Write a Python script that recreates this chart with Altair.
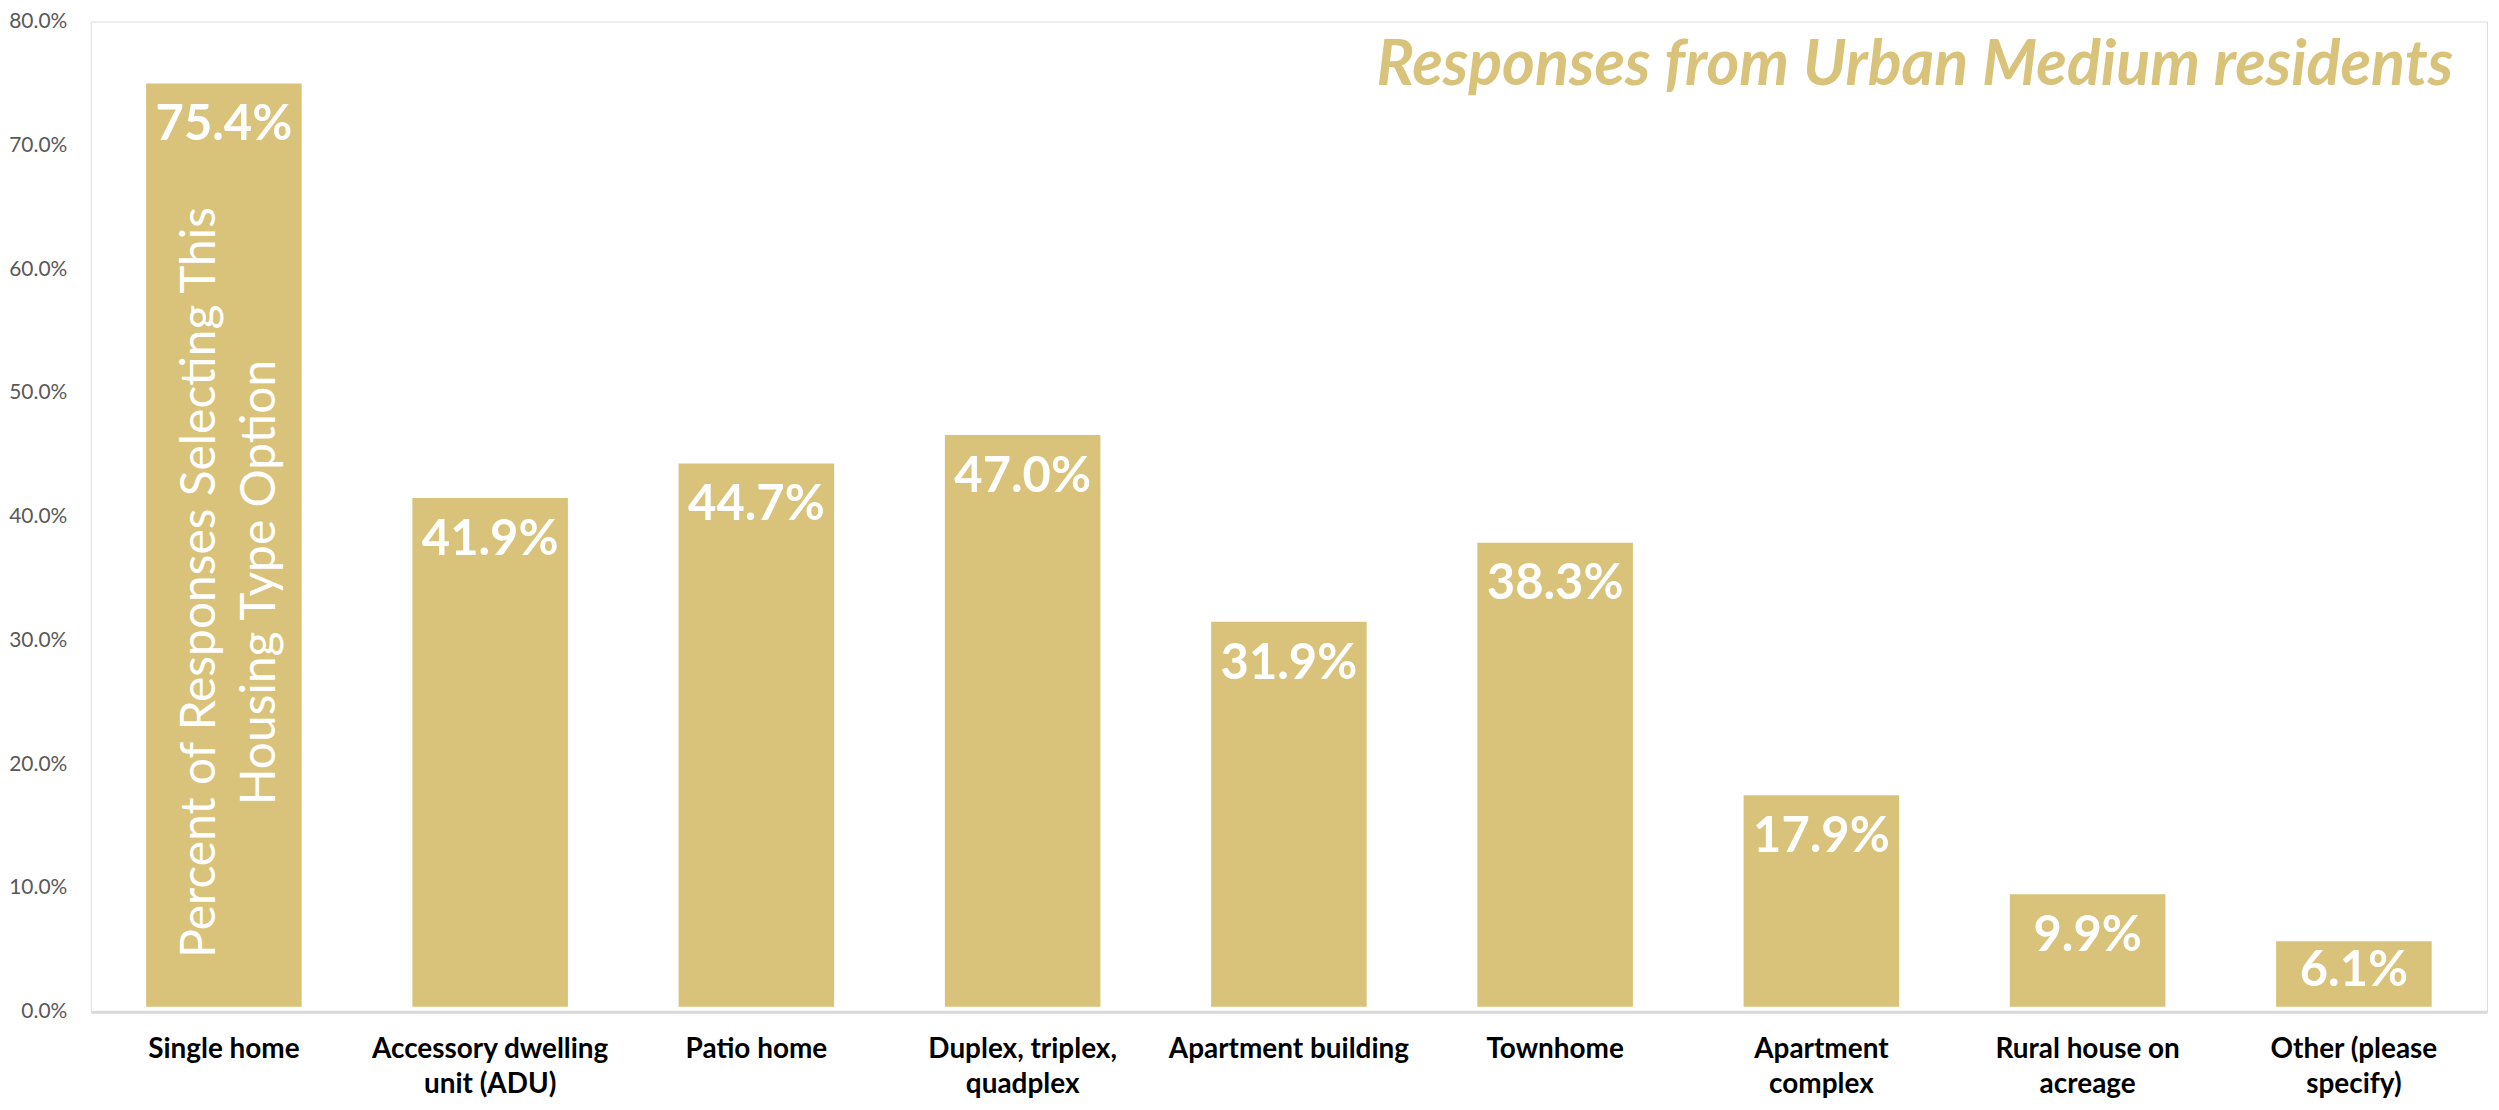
import altair as alt
import pandas as pd

categories = [
    "Single home",
    "Accessory dwelling unit (ADU)",
    "Patio home",
    "Duplex, triplex, quadplex",
    "Apartment building",
    "Townhome",
    "Apartment complex",
    "Rural house on acreage",
    "Other (please specify)",
]
label_lines = [
    ["Single home"],
    ["Accessory dwelling", "unit (ADU)"],
    ["Patio home"],
    ["Duplex, triplex,", "quadplex"],
    ["Apartment building"],
    ["Townhome"],
    ["Apartment", "complex"],
    ["Rural house on", "acreage"],
    ["Other (please", "specify)"],
]
values = [0.754, 0.419, 0.447, 0.470, 0.319, 0.383, 0.179, 0.099, 0.061]
y_ticks = [0.0, 0.1, 0.2, 0.3, 0.4, 0.5, 0.6, 0.7, 0.8]

title_text = "Responses from Urban Medium residents"
y_title = ["Percent of Responses Selecting This", "Housing Type Option"]

GOLD = "#D9C27A"
FONT = "Lato"

df = pd.DataFrame({"category": categories, "value": values})

expr = "''"
for cat, lines in reversed(list(zip(categories, label_lines))):
    arr = "[" + ",".join("'" + l + "'" for l in lines) + "]"
    expr = f"datum.label == '{cat}' ? {arr} : ({expr})"

x_enc = alt.X(
    "category:N",
    sort=categories,
    scale=alt.Scale(paddingInner=0.38, paddingOuter=0.19),
    axis=alt.Axis(
        title=None,
        labelAngle=0,
        labelExpr=expr,
        labelLimit=0,
        labelFont=FONT,
        labelFontSize=28,
        labelFontWeight="bold",
        labelColor="#000000",
        labelLineHeight=35,
        labelBaseline="top",
        labelPadding=24,
        ticks=False,
        domainColor="#D9D9D9",
        domainWidth=3,
        zindex=1,
    ),
)
y_enc = alt.Y(
    "value:Q",
    scale=alt.Scale(domain=[0, 0.8], nice=False),
    axis=alt.Axis(
        values=y_ticks,
        format=".1%",
        labelFont=FONT,
        labelFontSize=21,
        labelColor="#595959",
        labelPadding=24,
        ticks=False,
        domain=False,
        grid=False,
        title=y_title,
        titleFont=FONT,
        titleFontSize=48,
        titleFontWeight="normal",
        titleColor="#FFFFFF",
        titleAngle=270,
        titleLineHeight=60,
        titleAlign="center",
        titleBaseline="middle",
        titleX=110,
        titleY=562,
        zindex=1,
    ),
)

bars = alt.Chart(df).mark_bar(
    size=166, color=GOLD, stroke="white", strokeWidth=10
).encode(x=x_enc, y=y_enc)

# Labels sit just inside the top of each bar; very short bars get them centred
labels = alt.Chart(df).transform_calculate(
    label_pos="datum.value < 0.08 ? datum.value / 2 + 0.04 : datum.value"
).mark_text(
    font=FONT,
    fontSize=49,
    fontWeight="bold",
    color="white",
    baseline="alphabetic",
    align="center",
    dy=62,
).encode(
    x=alt.X("category:N", sort=categories),
    y=alt.Y("label_pos:Q"),
    text=alt.Text("value:Q", format=".1%"),
)

chart = (
    alt.layer(bars, labels)
    .properties(
        width=2403,
        height=993,
        autosize=alt.AutoSizeParams(type="none"),
        padding={"left": 83, "top": 12, "right": 4, "bottom": 85},
        title=alt.TitleParams(
            text=title_text,
            font=FONT,
            fontSize=63,
            fontWeight="bold",
            fontStyle="italic",
            color=GOLD,
            anchor="end",
            frame="group",
            orient="top",
            baseline="top",
            offset=0,
            dx=-34,
            dy=88,
        ),
    )
    .configure_view(stroke=None)
    .configure(background="white")
)

chart.save("out.html", embed_options={"renderer": "svg", "actions": False})
